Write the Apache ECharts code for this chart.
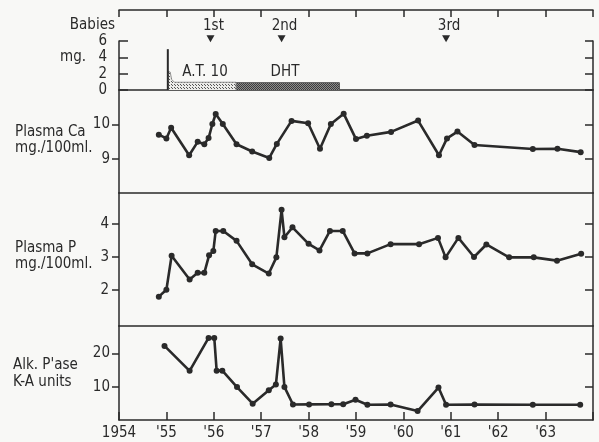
<!DOCTYPE html>
<html><head><meta charset="utf-8">
<script src="https://cdn.jsdelivr.net/npm/echarts@6/dist/echarts.min.js"></script>
<style>html,body{margin:0;padding:0;background:#f8f8f6}#c{width:599px;height:442px}</style>
</head><body><div id="c"></div>
<script>
// ---- data ----
const xTickLabels = ['1954', "'55", "'56", "'57", "'58", "'59", "'60", "'61", "'62", "'63", ''];
const babyYears = [1955.93, 1957.43, 1960.90];
const babyLabels = ['1st', '2nd', '3rd'];
const doseTicks = [0, 2, 4, 6];
const spikeYears = [1955.03, 1955.03];
const spikeDose = [0, 5.0];
const at10Years = [1955.03, 1955.08, 1955.11, 1955.17, 1956.47, 1956.47];
const at10Dose = [2.3, 2.2, 1.3, 0.95, 0.95, 0];
const dhtYears = [1956.47, 1958.65, 1958.65];
const dhtDose = [0.9, 0.9, 0];
const caTicks = [9, 10];
const caYears = [1954.84,1955.00,1955.10,1955.48,1955.66,1955.80,1955.89,1955.97,1956.04,1956.19,1956.48,1956.81,1957.17,1957.33,1957.64,1957.99,1958.24,1958.47,1958.74,1959.00,1959.23,1959.74,1960.31,1960.75,1960.92,1961.14,1961.50,1962.73,1963.25,1963.74];
const caValues = [9.70,9.59,9.90,9.10,9.49,9.42,9.60,10.01,10.30,10.01,9.42,9.21,9.02,9.43,10.10,10.03,9.29,10.01,10.31,9.57,9.67,9.78,10.11,9.10,9.59,9.79,9.40,9.28,9.29,9.19];
const pTicks = [2, 3, 4];
const pYears = [1954.84,1955.00,1955.11,1955.49,1955.66,1955.80,1955.90,1955.99,1956.04,1956.20,1956.48,1956.81,1957.16,1957.32,1957.43,1957.49,1957.66,1958.00,1958.23,1958.45,1958.72,1958.97,1959.24,1959.73,1960.33,1960.73,1960.89,1961.16,1961.49,1961.75,1962.23,1962.75,1963.24,1963.75];
const pValues = [1.80,2.01,3.04,2.32,2.52,2.52,3.05,3.18,3.79,3.79,3.49,2.78,2.50,2.99,4.43,3.60,3.90,3.40,3.20,3.79,3.79,3.11,3.11,3.39,3.39,3.58,2.99,3.58,3.00,3.38,2.99,2.99,2.89,3.10];
const alkTicks = [10, 20];
const alkYears = [1954.96,1955.49,1955.89,1956.01,1956.06,1956.18,1956.49,1956.82,1957.16,1957.31,1957.41,1957.49,1957.67,1958.01,1958.48,1958.73,1958.99,1959.24,1959.73,1960.30,1960.74,1960.90,1961.50,1962.73,1963.73];
const alkValues = [22.3,14.8,24.7,24.7,14.85,14.86,9.9,4.9,8.93,10.66,24.5,9.97,4.67,4.7,4.74,4.76,6.08,4.6,4.65,2.7,9.77,4.58,4.63,4.57,4.58];

// ---- styling ----
const INK = '#2a2a2a';
const FONT = '"DejaVu Sans Condensed","Liberation Sans Narrow","DejaVu Sans",sans-serif';
const zip = (a, b) => a.map((v, i) => [v, b[i]]);
function pat(bg, dot, size) {
  const c = document.createElement('canvas'); c.width = c.height = size;
  const g = c.getContext('2d'); g.fillStyle = bg; g.fillRect(0, 0, size, size);
  g.fillStyle = dot; g.fillRect(0, 0, 1, 1); g.fillRect(Math.floor(size / 2), Math.floor(size / 2), 1, 1);
  return c;
}
const axLine = { show: true, onZero: false, lineStyle: { color: INK, width: 1.5 } };
const grids = [
  { left: 119, right: 6, top: 10, height: 31 },
  { left: 119, right: 6, top: 41, height: 49 },
  { left: 119, right: 6, top: 90, height: 103 },
  { left: 119, right: 6, top: 193, height: 133 },
  { left: 119, right: 6, top: 326, height: 94 }
];
function xa(i, extra) {
  return Object.assign({ type: 'value', gridIndex: i, min: 1954, max: 1964, interval: 1,
    axisLine: axLine, axisTick: { show: false }, axisLabel: { show: false }, splitLine: { show: false } }, extra || {});
}
function yPair(i, min, max, ticks, leftInside, leftLen, margin) {
  return [
    { type: 'value', gridIndex: i, position: 'left', min: min, max: max, splitLine: { show: false },
      axisLine: axLine,
      axisTick: { show: true, inside: leftInside, length: leftLen, customValues: ticks, lineStyle: { color: INK, width: 1.5 } },
      axisLabel: { show: true, customValues: ticks, margin: margin, color: INK, fontFamily: FONT, fontSize: 15 } },
    { type: 'value', gridIndex: i, position: 'right', min: min, max: max, splitLine: { show: false },
      axisLine: axLine,
      axisTick: { show: true, inside: true, length: 8, customValues: ticks, lineStyle: { color: INK, width: 1.5 } },
      axisLabel: { show: false } }
  ];
}
const lineSeries = (xi, yi, xs, ys) => ({
  type: 'line', xAxisIndex: xi, yAxisIndex: yi, data: zip(xs, ys),
  symbol: 'circle', symbolSize: 6, showSymbol: true,
  lineStyle: { color: INK, width: 2.6 }, itemStyle: { color: INK }
});
const txt = (x, y, s, align) => ({ type: 'text', x: x, y: y,
  style: { text: s, fill: INK, font: '15px ' + FONT, textAlign: align || 'left', textVerticalAlign: 'middle' } });

const option = {
  backgroundColor: '#f8f8f6',
  animation: false,
  grid: grids,
  xAxis: [
    xa(0, { position: 'top', axisTick: { show: true, inside: true, length: 7, lineStyle: { color: INK, width: 1.5 } } }),
    xa(1), xa(2), xa(3),
    xa(4, { axisTick: { show: true, inside: true, length: 8, lineStyle: { color: INK, width: 1.5 } },
      axisLabel: { show: true, color: INK, fontFamily: FONT, fontSize: 15, margin: 6,
        formatter: v => xTickLabels[Math.round(v - 1954)] } })
  ],
  yAxis: [
    { type: 'value', gridIndex: 0, min: 0, max: 1, show: false },
    ...yPair(1, 0, 6, doseTicks, true, 9, 12),
    ...yPair(2, 8, 11, caTicks, false, 7, 9),
    ...yPair(3, 0.91, 4.94, pTicks, false, 7, 10),
    ...yPair(4, 0, 28.3, alkTicks, false, 7, 9)
  ],
  series: [
    { type: 'scatter', xAxisIndex: 0, yAxisIndex: 0, data: babyYears.map(y => [y, 0.07]),
      symbol: 'triangle', symbolRotate: 180, symbolSize: [8, 7], itemStyle: { color: INK, opacity: 1 },
      label: { show: true, position: 'top', distance: 2, offset: [3, 0], color: INK, fontFamily: FONT, fontSize: 15,
        formatter: p => babyLabels[p.dataIndex] } },
    { type: 'line', xAxisIndex: 1, yAxisIndex: 1, data: zip(dhtYears, dhtDose), symbol: 'none',
      lineStyle: { color: '#555', width: 1 }, areaStyle: { color: { image: pat('#8c8c8c', '#3c3c3c', 2), repeat: 'repeat' }, opacity: 1 } },
    { type: 'line', xAxisIndex: 1, yAxisIndex: 1, data: zip(at10Years, at10Dose), symbol: 'none',
      lineStyle: { color: '#777', width: 0.8 }, areaStyle: { color: { image: pat('#ecece9', '#555', 3), repeat: 'repeat' }, opacity: 1 } },
    { type: 'line', xAxisIndex: 1, yAxisIndex: 1, data: zip(spikeYears, spikeDose), symbol: 'none',
      lineStyle: { color: INK, width: 2 } },
    lineSeries(2, 3, caYears, caValues),
    lineSeries(3, 5, pYears, pValues),
    lineSeries(4, 7, alkYears, alkValues)
  ],
  graphic: [
    txt(115, 25, 'Babies', 'right'),
    txt(60, 57, 'mg.'),
    txt(205, 72, 'A.T. 10', 'center'),
    txt(285, 72, 'DHT', 'center'),
    txt(15, 132, 'Plasma Ca'),
    txt(15, 148, 'mg./100ml.'),
    txt(15, 248, 'Plasma P'),
    txt(15, 264, 'mg./100ml.'),
    txt(13, 365, "Alk. P'ase"),
    txt(13, 382, 'K-A units')
  ]
};
const chart = echarts.init(document.getElementById('c'), null, { renderer: 'canvas' });
chart.setOption(option);
</script>
</body></html>
